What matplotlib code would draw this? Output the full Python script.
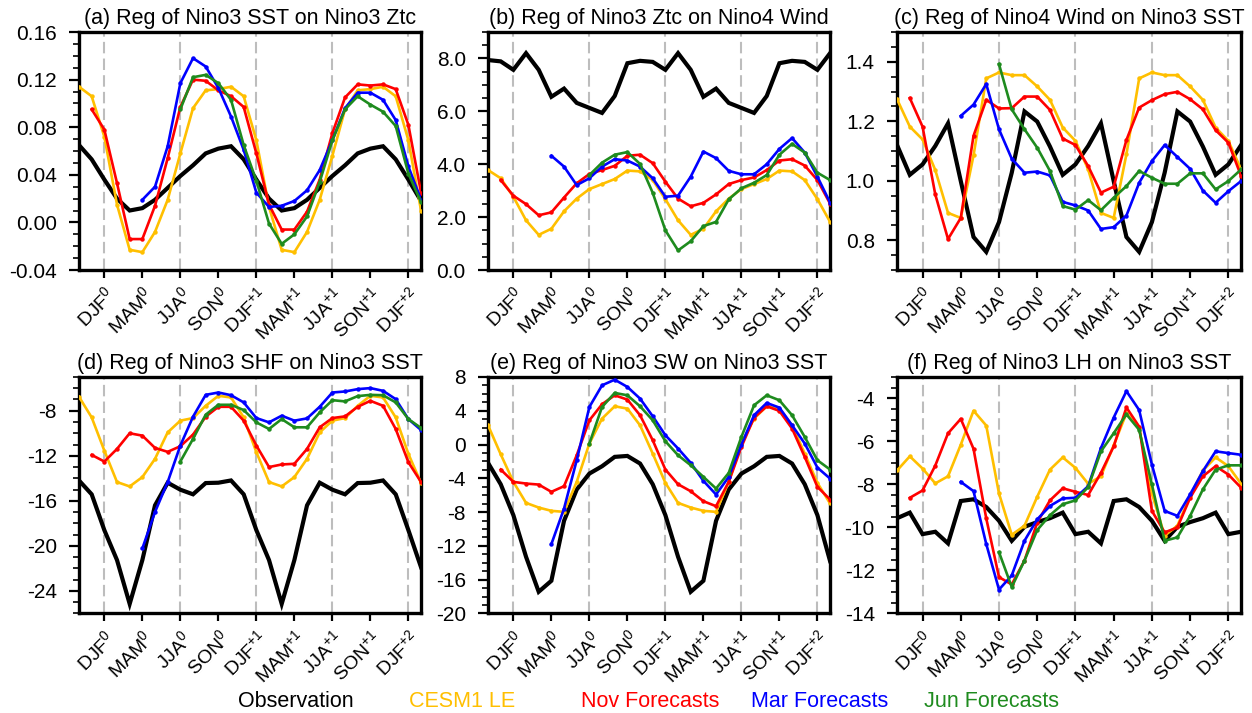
import matplotlib
matplotlib.use("Agg")
import matplotlib.pyplot as plt
from matplotlib.ticker import MultipleLocator, FormatStrFormatter

plt.rcParams['font.family'] = ['Liberation Sans', 'DejaVu Sans']
plt.rcParams['mathtext.fontset'] = 'custom'
plt.rcParams['mathtext.rm'] = 'Liberation Sans'
plt.rcParams['mathtext.default'] = 'regular'
plt.rcParams['axes.unicode_minus'] = False

# months relative to Jan of year 0 (DJF0 = 0)
months = list(range(-2, 26))
season_ticks = [0, 3, 6, 9, 12, 15, 18, 21, 24]
season_labels = [r'DJF$^{0}$', r'MAM$^{0}$', r'JJA$^{0}$', r'SON$^{0}$',
                 r'DJF$^{+1}$', r'MAM$^{+1}$', r'JJA$^{+1}$', r'SON$^{+1}$', r'DJF$^{+2}$']
dashed_months = [0, 6, 12, 18, 24]

series_names = ['Observation', 'CESM1 LE', 'Nov Forecasts', 'Mar Forecasts', 'Jun Forecasts']
series_colors = ['black', '#FFBF00', '#FF0000', '#0000FF', '#1E8B1E']
# first month of each series
series_start = [-2, -2, -1, 3, 6]

# (a) Nino3 SST on Nino3 Ztc
obs_a = [0.065, 0.053, 0.036, 0.020, 0.010, 0.012, 0.019, 0.029, 0.039, 0.048, 0.058, 0.062,
         0.064, 0.053, 0.036, 0.020, 0.010, 0.012, 0.019, 0.029, 0.039, 0.048, 0.058, 0.062,
         0.064, 0.053, 0.036, 0.018]
cesm_a = [0.114, 0.106, 0.072, 0.015, -0.023, -0.025, -0.008, 0.019, 0.058, 0.096, 0.111, 0.112,
          0.114, 0.106, 0.069, 0.013, -0.023, -0.025, -0.008, 0.019, 0.056, 0.095, 0.111, 0.112,
          0.114, 0.106, 0.069, 0.010]
nov_a = [0.095, 0.078, 0.033, -0.014, -0.014, 0.014, 0.054, 0.097, 0.120, 0.119, 0.111, 0.106,
         0.097, 0.058, 0.015, -0.006, -0.006, 0.009, 0.036, 0.075, 0.105, 0.116, 0.115, 0.116,
         0.112, 0.082, 0.025]
mar_a = [0.019, 0.030, 0.064, 0.117, 0.138, 0.131, 0.113, 0.089, 0.061, 0.025, 0.013, 0.014,
         0.018, 0.027, 0.044, 0.069, 0.096, 0.109, 0.109, 0.103, 0.086, 0.047, 0.019]
jun_a = [0.095, 0.122, 0.124, 0.117, 0.103, 0.065, 0.035, -0.001, -0.018, -0.010, 0.005, 0.034,
         0.069, 0.095, 0.106, 0.099, 0.093, 0.081, 0.041, 0.017]

# (b) Nino3 Ztc on Nino4 Wind
obs_b = [7.94, 7.89, 7.57, 8.20, 7.57, 6.55, 6.86, 6.32, 6.13, 5.94, 6.58, 7.82,
         7.91, 7.87, 7.57, 8.20, 7.57, 6.55, 6.86, 6.32, 6.13, 5.94, 6.58, 7.82,
         7.91, 7.87, 7.57, 8.20]
cesm_b = [3.78, 3.47, 2.77, 1.88, 1.33, 1.56, 2.22, 2.70, 3.06, 3.25, 3.44, 3.76,
          3.73, 3.40, 2.68, 1.88, 1.33, 1.56, 2.22, 2.70, 3.06, 3.25, 3.44, 3.76,
          3.73, 3.40, 2.68, 1.82]
nov_b = [3.40, 2.81, 2.49, 2.07, 2.18, 2.74, 3.28, 3.63, 3.78, 3.94, 4.32, 4.36,
         4.04, 3.34, 2.70, 2.41, 2.54, 2.86, 3.25, 3.40, 3.50, 3.78, 4.14, 4.19,
         3.95, 3.40, 2.51]
mar_b = [4.32, 3.91, 3.21, 3.47, 3.91, 4.19, 4.14, 3.91, 3.47, 2.77, 2.81, 3.53,
         4.48, 4.23, 3.75, 3.62, 3.62, 4.00, 4.58, 4.99, 4.44, 3.53, 2.55]
jun_b = [3.59, 4.06, 4.36, 4.46, 4.01, 2.92, 1.50, 0.74, 1.09, 1.66, 1.82, 2.67,
         3.09, 3.30, 3.59, 4.36, 4.77, 4.44, 3.68, 3.40]

# (c) Nino4 Wind on Nino3 SST
obs_c = [1.120, 1.020, 1.055, 1.117, 1.193, 0.999, 0.811, 0.761, 0.861, 1.027, 1.233, 1.199,
         1.115, 1.020, 1.055, 1.117, 1.193, 0.999, 0.811, 0.761, 0.861, 1.027, 1.233, 1.199,
         1.115, 1.020, 1.055, 1.120]
cesm_c = [1.274, 1.182, 1.139, 1.036, 0.892, 0.875, 1.085, 1.344, 1.364, 1.355, 1.355, 1.317,
          1.272, 1.179, 1.134, 1.038, 0.892, 0.875, 1.089, 1.344, 1.364, 1.355, 1.355, 1.317,
          1.272, 1.179, 1.134, 1.038]
nov_c = [1.278, 1.182, 0.954, 0.804, 0.875, 1.151, 1.272, 1.243, 1.244, 1.283, 1.283, 1.238,
         1.142, 1.120, 1.049, 0.960, 0.980, 1.137, 1.246, 1.271, 1.291, 1.299, 1.274, 1.240,
         1.170, 1.128, 1.016]
mar_c = [1.218, 1.256, 1.325, 1.173, 1.074, 1.027, 1.031, 1.018, 0.929, 0.917, 0.900, 0.838,
         0.844, 0.883, 0.993, 1.066, 1.120, 1.080, 1.040, 0.967, 0.926, 0.965, 0.999]
jun_c = [1.392, 1.240, 1.173, 1.111, 1.033, 0.915, 0.903, 0.935, 0.901, 0.943, 0.982, 1.033,
         1.010, 0.990, 0.990, 1.025, 1.025, 0.971, 0.999, 1.038]

# (d) Nino3 SHF on Nino3 SST
obs_d = [-14.19, -15.42, -18.60, -21.26, -25.15, -21.26, -16.40, -14.39, -15.01, -15.42, -14.42, -14.39,
         -14.19, -15.42, -18.60, -21.26, -25.15, -21.26, -16.40, -14.39, -15.01, -15.42, -14.42, -14.39,
         -14.19, -15.42, -18.60, -21.90]
cesm_d = [-6.76, -8.59, -11.54, -14.33, -14.72, -13.89, -12.27, -9.92, -8.88, -8.65, -7.56, -6.67,
          -6.82, -8.59, -11.68, -14.33, -14.72, -13.89, -12.27, -9.92, -8.88, -8.65, -7.56, -6.67,
          -6.82, -8.59, -11.83, -14.42]
nov_d = [-11.92, -12.51, -11.39, -10.00, -10.21, -11.30, -11.65, -11.15, -10.12, -8.53, -7.65, -7.65,
         -8.88, -11.09, -13.00, -12.77, -12.71, -11.39, -9.47, -8.65, -8.50, -7.65, -7.12, -7.56,
         -9.62, -12.57, -14.33]
mar_d = [-20.23, -16.99, -14.33, -11.09, -8.53, -6.59, -6.38, -6.62, -7.26, -8.65, -9.03, -8.44,
         -8.88, -8.68, -7.65, -6.38, -6.29, -6.08, -5.99, -6.23, -6.97, -8.74, -9.71]
jun_d = [-12.51, -10.50, -8.35, -7.47, -7.47, -7.94, -9.03, -9.62, -8.74, -9.47, -9.47, -8.15,
         -7.06, -7.17, -6.70, -6.59, -6.62, -7.26, -8.74, -9.53]

# (e) Nino3 SW on Nino3 SST
obs_e = [-2.17, -4.70, -8.36, -13.29, -17.43, -16.13, -9.03, -5.33, -3.44, -2.57, -1.46, -1.35,
         -2.25, -4.70, -8.36, -13.29, -17.43, -16.13, -9.03, -5.33, -3.44, -2.57, -1.46, -1.35,
         -2.25, -4.70, -8.36, -13.80]
cesm_e = [2.28, -1.15, -4.42, -6.91, -7.46, -7.85, -7.97, -4.42, 0.12, 3.07, 4.53, 4.25,
          2.28, -1.07, -4.54, -6.91, -7.46, -7.85, -7.97, -4.42, 0.12, 3.07, 4.53, 4.25,
          2.28, -1.07, -4.54, -6.98]
nov_e = [-2.96, -4.42, -4.62, -4.74, -5.60, -4.93, -1.27, 2.87, 4.77, 5.83, 5.32, 3.47,
         0.51, -2.96, -4.70, -5.53, -6.71, -7.30, -4.42, -0.28, 3.19, 4.53, 3.98, 1.89,
         -1.46, -5.01, -6.51]
mar_e = [-11.79, -7.58, -1.86, 4.45, 7.01, 7.68, 6.82, 5.44, 3.35, 1.10, -0.47, -2.17,
         -4.30, -5.92, -3.83, 0.00, 3.47, 4.92, 4.37, 2.28, 0.12, -2.73, -4.03]
jun_e = [0.12, 4.45, 6.11, 5.83, 4.53, 2.87, 0.39, -1.27, -2.45, -3.83, -5.21, -3.36,
         0.90, 4.65, 5.83, 5.24, 3.47, 0.90, -1.86, -2.96]

# (f) Nino3 LH on Nino3 SST
obs_f = [-9.57, -9.31, -10.31, -10.20, -10.74, -8.77, -8.69, -9.05, -9.69, -10.62, -9.97, -9.75,
         -9.57, -9.31, -10.31, -10.20, -10.74, -8.77, -8.69, -9.05, -9.69, -10.62, -9.97, -9.75,
         -9.57, -9.31, -10.31, -10.20]
cesm_f = [-7.35, -6.69, -7.26, -7.95, -7.62, -6.15, -4.57, -5.26, -8.42, -10.34, -9.92, -8.57,
          -7.31, -6.74, -7.23, -7.97, -7.62, -6.18, -4.69, -5.38, -8.42, -10.38, -9.92, -8.54,
          -7.35, -6.74, -7.15, -7.97]
nov_f = [-8.62, -8.28, -7.12, -5.62, -4.95, -6.34, -9.58, -12.31, -12.65, -11.54, -9.77, -8.74,
         -8.18, -8.34, -8.49, -7.46, -6.23, -4.42, -5.31, -9.23, -10.23, -10.00, -8.62, -7.62,
         -7.15, -7.54, -8.15]
mar_f = [-7.88, -8.31, -10.77, -12.89, -12.23, -10.62, -9.62, -9.00, -8.65, -8.62, -8.08, -6.31,
         -4.89, -3.66, -4.54, -7.08, -9.23, -9.46, -8.46, -7.38, -6.46, -6.54, -6.62]
jun_f = [-11.15, -12.77, -11.54, -10.12, -9.43, -8.92, -8.74, -8.12, -6.46, -5.62, -4.74, -5.46,
         -8.00, -10.62, -10.46, -9.46, -8.23, -7.31, -7.11, -7.11]

panels = [
    ('(a) Reg of Nino3 SST on Nino3 Ztc', [obs_a, cesm_a, nov_a, mar_a, jun_a], (-0.04, 0.16), 0.04, 0.01, '%.2f'),
    ('(b) Reg of Nino3 Ztc on Nino4 Wind', [obs_b, cesm_b, nov_b, mar_b, jun_b], (0.0, 9.0), 2.0, 0.5, '%.1f'),
    ('(c) Reg of Nino4 Wind on Nino3 SST', [obs_c, cesm_c, nov_c, mar_c, jun_c], (0.7, 1.5), 0.2, 0.05, '%.1f'),
    ('(d) Reg of Nino3 SHF on Nino3 SST', [obs_d, cesm_d, nov_d, mar_d, jun_d], (-26, -5), 4, 1, '%d'),
    ('(e) Reg of Nino3 SW on Nino3 SST', [obs_e, cesm_e, nov_e, mar_e, jun_e], (-20, 8), 4, 1, '%d'),
    ('(f) Reg of Nino3 LH on Nino3 SST', [obs_f, cesm_f, nov_f, mar_f, jun_f], (-14, -3), 2, 0.5, '%d'),
]

# axes boxes in figure fraction [left, bottom, width, height]
col_left = [0.0631, 0.3898, 0.7165]
col_width = [0.2732, 0.2732, 0.2748]
row_bottom = [0.6213, 0.1396]
row_height = [0.3338, 0.3317]

fig = plt.figure(figsize=(12.52, 7.13), dpi=100)

for i, (title, data, ylim, major, minor, fmt) in enumerate(panels):
    r, c = divmod(i, 3)
    ax = fig.add_axes([col_left[c], row_bottom[r], col_width[c], row_height[r]])

    for m in dashed_months:
        ax.axvline(m, color='#bdbdbd', lw=1.5, ls=(0, (5.5, 2.5)), zorder=1)

    for k, vals in enumerate(data):
        xs = months[months.index(series_start[k]):][:len(vals)]
        if k == 0:
            ax.plot(xs, vals, color=series_colors[k], lw=3.0, zorder=2, solid_joinstyle='miter')
        else:
            ax.plot(xs, vals, color=series_colors[k], lw=1.9, marker='o', markersize=2.2,
                    zorder=3 + k)

    ax.set_xlim(-2, 25)
    ax.set_ylim(*ylim)
    ax.set_xticks(season_ticks)
    ax.set_xticklabels(season_labels, rotation=45, ha='right', va='top',
                       rotation_mode='anchor', fontsize=14)
    ax.yaxis.set_major_locator(MultipleLocator(major))
    ax.yaxis.set_minor_locator(MultipleLocator(minor))
    ax.yaxis.set_major_formatter(FormatStrFormatter(fmt))
    ax.tick_params(axis='y', which='major', direction='out', length=7, width=1.6,
                   labelsize=15, pad=9)
    ax.tick_params(axis='y', which='minor', direction='out', length=4, width=1.2)
    ax.tick_params(axis='x', which='major', direction='out', length=6, width=1.6, pad=4)
    for sp in ax.spines.values():
        sp.set_linewidth(2.4)
    ax.set_title(title, fontsize=15.5, pad=6)

# text-only legend along the bottom
legend_x = [0.236, 0.369, 0.519, 0.655, 0.792]
for name, col, lx in zip(series_names, series_colors, legend_x):
    fig.text(lx, 0.0155, name, color=col, fontsize=15.5, ha='center', va='center')

fig.savefig('out.png', dpi=100)
